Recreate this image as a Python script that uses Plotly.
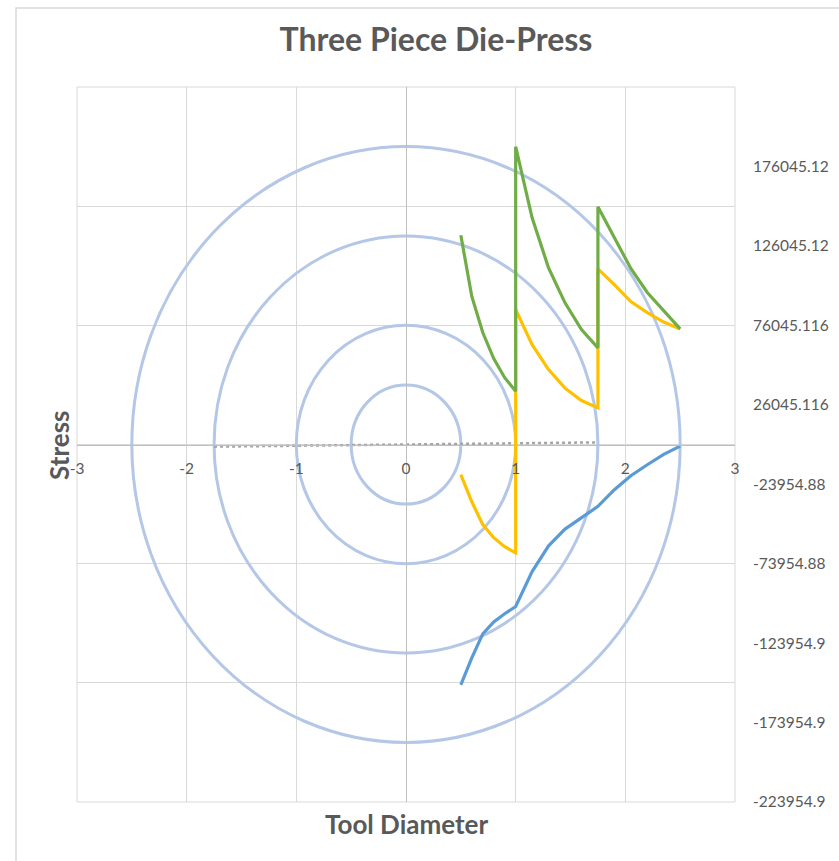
import plotly.graph_objects as go

# ---------------- data ----------------
x_ticks = [-3, -2, -1, 0, 1, 2, 3]
x_ticktext = ["-3", "-2", "-1", "0", "1", "2", "3"]

stress_ticktext = ["-223954.9", "-173954.9", "-123954.9", "-73954.88", "-23954.88",
                   "26045.116", "76045.116", "126045.12", "176045.12"]
stress_tickvals = [-223954.884, -173954.884, -123954.884, -73954.884, -23954.884,
                   26045.116, 76045.116, 126045.116, 176045.116]
stress_range = [-223954.884, 226045.116]

# radii of the die pieces (circles)
radii = [0.5, 1.0, 1.75, 2.5]

# radial stress (blue)
blue_x = [0.5, 0.6, 0.7, 0.8, 0.9, 1.0, 1.15, 1.3, 1.45, 1.6, 1.75, 1.9, 2.05, 2.2, 2.35, 2.5]
blue_y = [-150200, -133200, -118100, -110600, -105500, -100900, -78900, -62700,
          -52200, -45000, -37900, -27400, -18600, -11700, -5200, 0]

# piece stresses (yellow / green)
seg_x = [0.5, 0.6, 0.7, 0.8, 0.9, 1.0, 1.0, 1.15, 1.3, 1.45, 1.6, 1.75,
         1.75, 1.9, 2.05, 2.2, 2.35, 2.5]
yellow_y = [-17950, -35000, -49400, -57600, -63300, -67100, 86000, 63900, 48200,
            36500, 28700, 24100, 111600, 101700, 91000, 84100, 78100, 73800]
green_y = [132800, 94200, 71500, 55100, 43100, 34500, 188500, 143700, 112200,
           90200, 73400, 61900, 150700, 131000, 111800, 96700, 85500, 73800]

# dotted reference line
dot_x = [-1.75, 1.75]
dot_y = [-0.018, 0.018]

# ---------------- styles ----------------
FONT = "Lato"
TXT = "#595959"
GRID = "#D9D9D9"
AXIS = "#BFBFBF"
CIRCLE = "#B4C7E7"
TICK_SIZE = 15.5

fig = go.Figure()

fig.add_trace(go.Scatter(x=dot_x, y=dot_y, mode="lines", xaxis="x", yaxis="y",
                         line=dict(color="#A5A5A5", width=2.5, dash="dot"),
                         showlegend=False, hoverinfo="skip"))
fig.add_trace(go.Scatter(x=blue_x, y=blue_y, mode="lines", xaxis="x", yaxis="y2",
                         line=dict(color="#5B9BD5", width=3.2), showlegend=False))
fig.add_trace(go.Scatter(x=seg_x, y=yellow_y, mode="lines", xaxis="x", yaxis="y2",
                         line=dict(color="#FFC000", width=3.2), showlegend=False))
fig.add_trace(go.Scatter(x=seg_x, y=green_y, mode="lines", xaxis="x", yaxis="y2",
                         line=dict(color="#70AD47", width=3.2), showlegend=False))

shapes = []
# plot-area outline (edge gridlines)
shapes.append(dict(type="rect", xref="paper", yref="paper", x0=0, x1=1, y0=0, y1=1,
                   line=dict(color=GRID, width=1), layer="below"))
for r in radii:
    shapes.append(dict(type="circle", xref="x", yref="y", x0=-r, x1=r, y0=-r, y1=r,
                       line=dict(color=CIRCLE, width=3), layer="between"))
# chart-area border
shapes.append(dict(type="rect", xref="paper", yref="paper",
                   x0=-0.0927, x1=1.2, y0=-0.12, y1=1.1105,
                   line=dict(color=GRID, width=1.5), layer="below"))

fig.update_layout(
    width=839, height=861,
    margin=dict(l=77, r=104, t=87, b=59, autoexpand=False),
    paper_bgcolor="white", plot_bgcolor="white",
    font=dict(family=FONT, color=TXT),
    title=dict(text="Three Piece Die-Press", x=436 / 839, xref="container", xanchor="center",
               y=1 - 40 / 861, yref="container", yanchor="middle",
               font=dict(family=FONT, size=32, color=TXT, weight="bold")),
    xaxis=dict(range=[-3, 3], tickvals=x_ticks, ticktext=x_ticktext,
               showgrid=True, gridcolor=GRID, gridwidth=1, zeroline=False,
               showline=True, linecolor=AXIS, linewidth=1,
               anchor="free", position=0.5, automargin=False,
               ticks="outside", ticklen=10, tickcolor="rgba(0,0,0,0)",
               tickfont=dict(family=FONT, size=TICK_SIZE, color=TXT)),
    yaxis=dict(range=[-3, 3], tickvals=x_ticks, showticklabels=False,
               showgrid=True, gridcolor=GRID, gridwidth=1, zeroline=False,
               showline=True, linecolor=AXIS, linewidth=1,
               anchor="free", position=0.5, ticks="", automargin=False),
    yaxis2=dict(range=stress_range, overlaying="y", side="right", anchor="x",
                tickvals=stress_tickvals, ticktext=stress_ticktext,
                showgrid=False, zeroline=False, showline=False, automargin=False,
                ticks="outside", ticklen=14, tickcolor="rgba(0,0,0,0)",
                tickfont=dict(family=FONT, size=TICK_SIZE, color=TXT)),
    shapes=shapes,
    annotations=[
        dict(text="Tool Diameter", xref="paper", yref="paper", x=0.5, y=(802 - 824) / 715,
             xanchor="center", yanchor="middle", showarrow=False,
             font=dict(family=FONT, size=26, color=TXT, weight="bold")),
        dict(text="Stress", xref="paper", yref="paper", x=(59 - 77) / 658, y=0.498,
             xanchor="center", yanchor="middle", showarrow=False, textangle=-90,
             font=dict(family=FONT, size=26, color=TXT, weight="bold")),
    ],
)

fig.write_html("out.html", config={"displayModeBar": False},
               post_script="document.body.style.margin='0';document.body.style.overflow='hidden';")
